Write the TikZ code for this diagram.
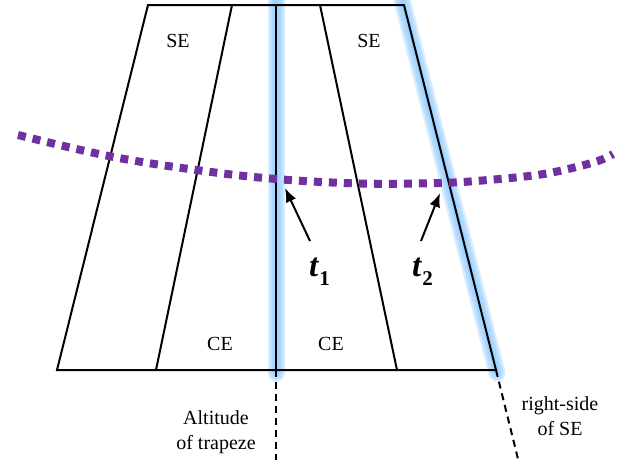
\documentclass[tikz,border=0pt]{standalone}
\usepackage{fontspec}
\setmainfont{Liberation Serif}
\usetikzlibrary{arrows.meta}
\definecolor{glowc}{RGB}{140,200,255}
\definecolor{purp}{RGB}{112,48,160}
\newcommand\tlabel[1]{{\fontsize{33}{33}\selectfont\bfseries\itshape t}\kern1pt\raisebox{-9pt}{\fontsize{21}{21}\selectfont\bfseries #1}}
\begin{document}
\begin{tikzpicture}[x=1pt,y=-1pt,
  edge/.style={line width=2pt,black},
  glow/.style={glowc,line width=#1,line cap=round,opacity=0.35},
  ext/.style={line width=2pt,black,dash pattern=on 7pt off 5pt},
  curve/.style={purp,line width=8pt,dash pattern=on 8pt off 7pt},
  arr/.style={line width=2pt,-{Latex[length=14pt,width=11pt]}},
  lbl/.style={inner sep=0pt,font=\fontsize{20}{25}\selectfont,align=center}]
\useasboundingbox (0,0) rectangle (631,466);
% corners
\coordinate (TL) at (148,5);
\coordinate (TR) at (404,5);
\coordinate (BL) at (57,370);
\coordinate (BR) at (496,370);
\coordinate (ILt) at (232,5);
\coordinate (ILb) at (156,370);
\coordinate (Ct) at (276,5);
\coordinate (Cb) at (276,370);
\coordinate (IRt) at (320,5);
\coordinate (IRb) at (397,370);
\coordinate (Cd) at (276,460);
\coordinate (Rd) at (519,463);
% glow
\foreach \w in {17pt,13pt,9pt,5pt}{
  \draw[glow=\w] (276,0) -- (276,373);
  \draw[glow=\w] (402,0) -- (497,373);
}
% trapezoid
\draw[edge] (TL) -- (TR) -- (BR) -- (BL) -- cycle;
\draw[edge] (ILt) -- (ILb);
\draw[edge] (Ct) -- (Cb);
\draw[edge] (IRt) -- (IRb);
% extensions
\draw[ext] (Cb) -- (Cd);
\draw[ext] (BR) -- (Rd);
% dotted curve
\draw[curve] plot[smooth,tension=0.6] coordinates {(18,135) (111,156.5) (200,170.5) (276,179) (360,183.5) (440,183) (488,180) (537,175) (568,169) (598,161) (613,154)};
% labels
\node[lbl] (se1) at (178,41) {SE};
\node[lbl] (se2) at (369,41) {SE};
\node[lbl] (ce1) at (220,344) {CE};
\node[lbl] (ce2) at (331,344) {CE};
\node[lbl,anchor=north] (alt) at (216,410) {Altitude\\of trapeze};
\node[lbl,anchor=north] (rs) at (560,396) {right-side\\of SE};
\node[inner sep=0pt,anchor=base west] (t1) at (309,276) {\tlabel{1}};
\node[inner sep=0pt,anchor=base west] (t2) at (412,276) {\tlabel{2}};
% arrows
\coordinate (a1) at (310,241);
\coordinate (p1) at (285,188);
\coordinate (a2) at (421,241);
\coordinate (p2) at (440,193);
\draw[arr] (a1) -- (p1);
\draw[arr] (a2) -- (p2);
\end{tikzpicture}
\end{document}
